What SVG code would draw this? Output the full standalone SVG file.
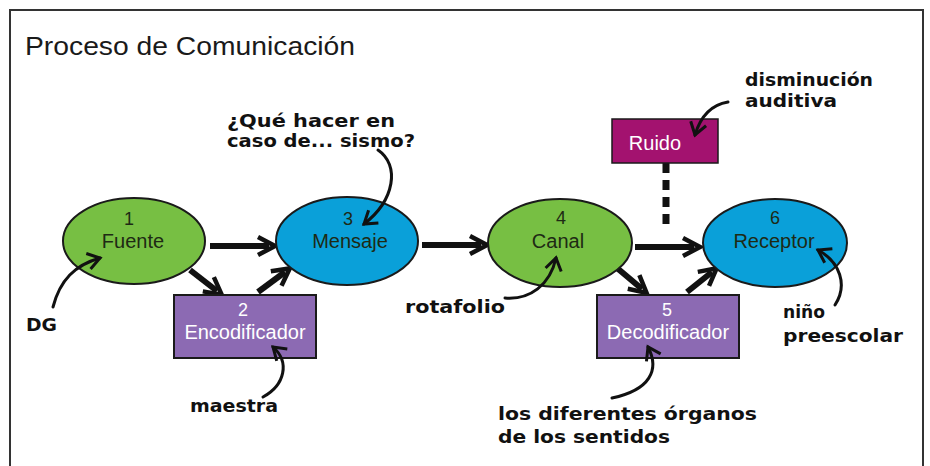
<svg xmlns="http://www.w3.org/2000/svg" width="930" height="466" viewBox="0 0 930 466">
<defs>
<style>
.frame{fill:#fff;stroke:#333;stroke-width:2}
.title{font-family:"Liberation Sans",Arial,sans-serif;font-size:26px;fill:#1a1a1a}
.ell{stroke:#1a1a1a;stroke-width:2}
.green{fill:#77bf43}
.blue{fill:#0aa0d9}
.box{fill:#8c6ab3;stroke:#1a1a1a;stroke-width:2}
.ruido{fill:#a3126f;stroke:#1a1a1a;stroke-width:1.5}
.nlab{font-family:"Liberation Sans",Arial,sans-serif;font-size:20px;fill:#1e2a14;text-anchor:middle}
.num{font-family:"Liberation Sans",Arial,sans-serif;font-size:18px;fill:#1e2a14;text-anchor:middle}
.blab{font-family:"Liberation Sans",Arial,sans-serif;font-size:20px;fill:#fff;text-anchor:middle}
.bnum{font-family:"Liberation Sans",Arial,sans-serif;font-size:18px;fill:#fff;text-anchor:middle}
.note{font-family:"DejaVu Sans",sans-serif;font-weight:bold;font-size:18px;fill:#111}
.thick{stroke:#111;stroke-width:6;fill:none;marker-end:url(#bigArrow)}
.thin{stroke:#111;stroke-width:3;fill:none;stroke-linecap:round;marker-end:url(#smallArrow)}
.dash{stroke:#111;stroke-width:7;stroke-dasharray:10 7;fill:none}
</style>
<marker id="bigArrow" markerUnits="userSpaceOnUse" markerWidth="26" markerHeight="26" viewBox="0 0 26 26" refX="16" refY="13" orient="auto">
<path d="M5,4 L22,13 L5,22" fill="none" stroke="#111" stroke-width="4.5" stroke-linejoin="miter"/>
</marker>
<marker id="smallArrow" markerUnits="userSpaceOnUse" markerWidth="20" markerHeight="20" viewBox="0 0 20 20" refX="16" refY="10" orient="auto">
<path d="M4,2 L16,10 L4,18" fill="none" stroke="#111" stroke-width="3"/>
</marker>
</defs>
<rect x="0" y="0" width="930" height="466" fill="#fff"/>
<rect class="frame" x="10" y="10" width="913" height="470"/>
<text class="title" x="25" y="55" textLength="330" lengthAdjust="spacingAndGlyphs">Proceso de Comunicación</text>

<g id="connectors">
<line class="thick" x1="210" y1="246" x2="269" y2="246"/>
<line class="thick" x1="190" y1="270" x2="217" y2="291"/>
<line class="thick" x1="258" y1="292" x2="285" y2="272"/>
<line class="thick" x1="422" y1="245" x2="481" y2="245"/>
<line class="thick" x1="635" y1="247" x2="694" y2="247"/>
<line class="thick" x1="617" y1="268" x2="642" y2="289"/>
<line class="thick" x1="687" y1="292" x2="712" y2="272"/>
<line class="dash" x1="666" y1="163" x2="666" y2="229"/>
</g>

<g id="n1">
<ellipse class="ell green" cx="134" cy="241" rx="71" ry="43"/>
<text class="num" x="129" y="225">1</text>
<text class="nlab" x="133" y="248">Fuente</text>
</g>
<g id="n2">
<rect class="box" x="174" y="295" width="142" height="63"/>
<text class="bnum" x="243" y="316">2</text>
<text class="blab" x="245" y="339">Encodificador</text>
</g>
<g id="n3">
<ellipse class="ell blue" cx="347" cy="241" rx="71" ry="44"/>
<text class="num" x="348" y="225">3</text>
<text class="nlab" x="350" y="248">Mensaje</text>
</g>
<g id="n4">
<ellipse class="ell green" cx="560" cy="243" rx="72" ry="44"/>
<text class="num" x="561" y="224">4</text>
<text class="nlab" x="558" y="248">Canal</text>
</g>
<g id="n5">
<rect class="box" x="597" y="295" width="142" height="63"/>
<text class="bnum" x="667" y="316">5</text>
<text class="blab" x="668" y="339">Decodificador</text>
</g>
<g id="n6">
<ellipse class="ell blue" cx="775" cy="243" rx="72" ry="44"/>
<text class="num" x="775" y="224">6</text>
<text class="nlab" x="774" y="248">Receptor</text>
</g>
<g id="ruido">
<rect class="ruido" x="612" y="119" width="106" height="44"/>
<text class="blab" x="655" y="150">Ruido</text>
</g>

<g id="annotation-connectors">
<path class="thin" d="M378,150 C400,165 395,200 364,224"/>
<path class="thin" d="M53,307 C60,280 75,265 100,258"/>
<path class="thin" d="M263,397 C285,385 290,362 273,347"/>
<path class="thin" d="M505,298 C530,300 550,285 556,258"/>
<path class="thin" d="M835,305 C848,285 840,262 818,250"/>
<path class="thin" d="M612,398 C650,390 660,370 648,347"/>
<path class="thin" d="M728,102 C710,105 700,118 695,135"/>
</g>

<g id="notes">
<text class="note" x="227" y="127" textLength="168" lengthAdjust="spacingAndGlyphs">¿Qué hacer en</text>
<text class="note" x="227" y="147" textLength="188" lengthAdjust="spacingAndGlyphs">caso de... sismo?</text>
<text class="note" x="26" y="331" textLength="31" lengthAdjust="spacingAndGlyphs">DG</text>
<text class="note" x="190" y="412" textLength="88" lengthAdjust="spacingAndGlyphs">maestra</text>
<text class="note" x="405" y="313" textLength="100" lengthAdjust="spacingAndGlyphs">rotafolio</text>
<text class="note" x="783" y="318" textLength="42" lengthAdjust="spacingAndGlyphs">niño</text>
<text class="note" x="783" y="342" textLength="120" lengthAdjust="spacingAndGlyphs">preescolar</text>
<text class="note" x="498" y="420" textLength="259" lengthAdjust="spacingAndGlyphs">los diferentes órganos</text>
<text class="note" x="498" y="443" textLength="172" lengthAdjust="spacingAndGlyphs">de los sentidos</text>
<text class="note" x="745" y="86" textLength="128" lengthAdjust="spacingAndGlyphs">disminución</text>
<text class="note" x="745" y="107" textLength="92" lengthAdjust="spacingAndGlyphs">auditiva</text>
</g>
</svg>
